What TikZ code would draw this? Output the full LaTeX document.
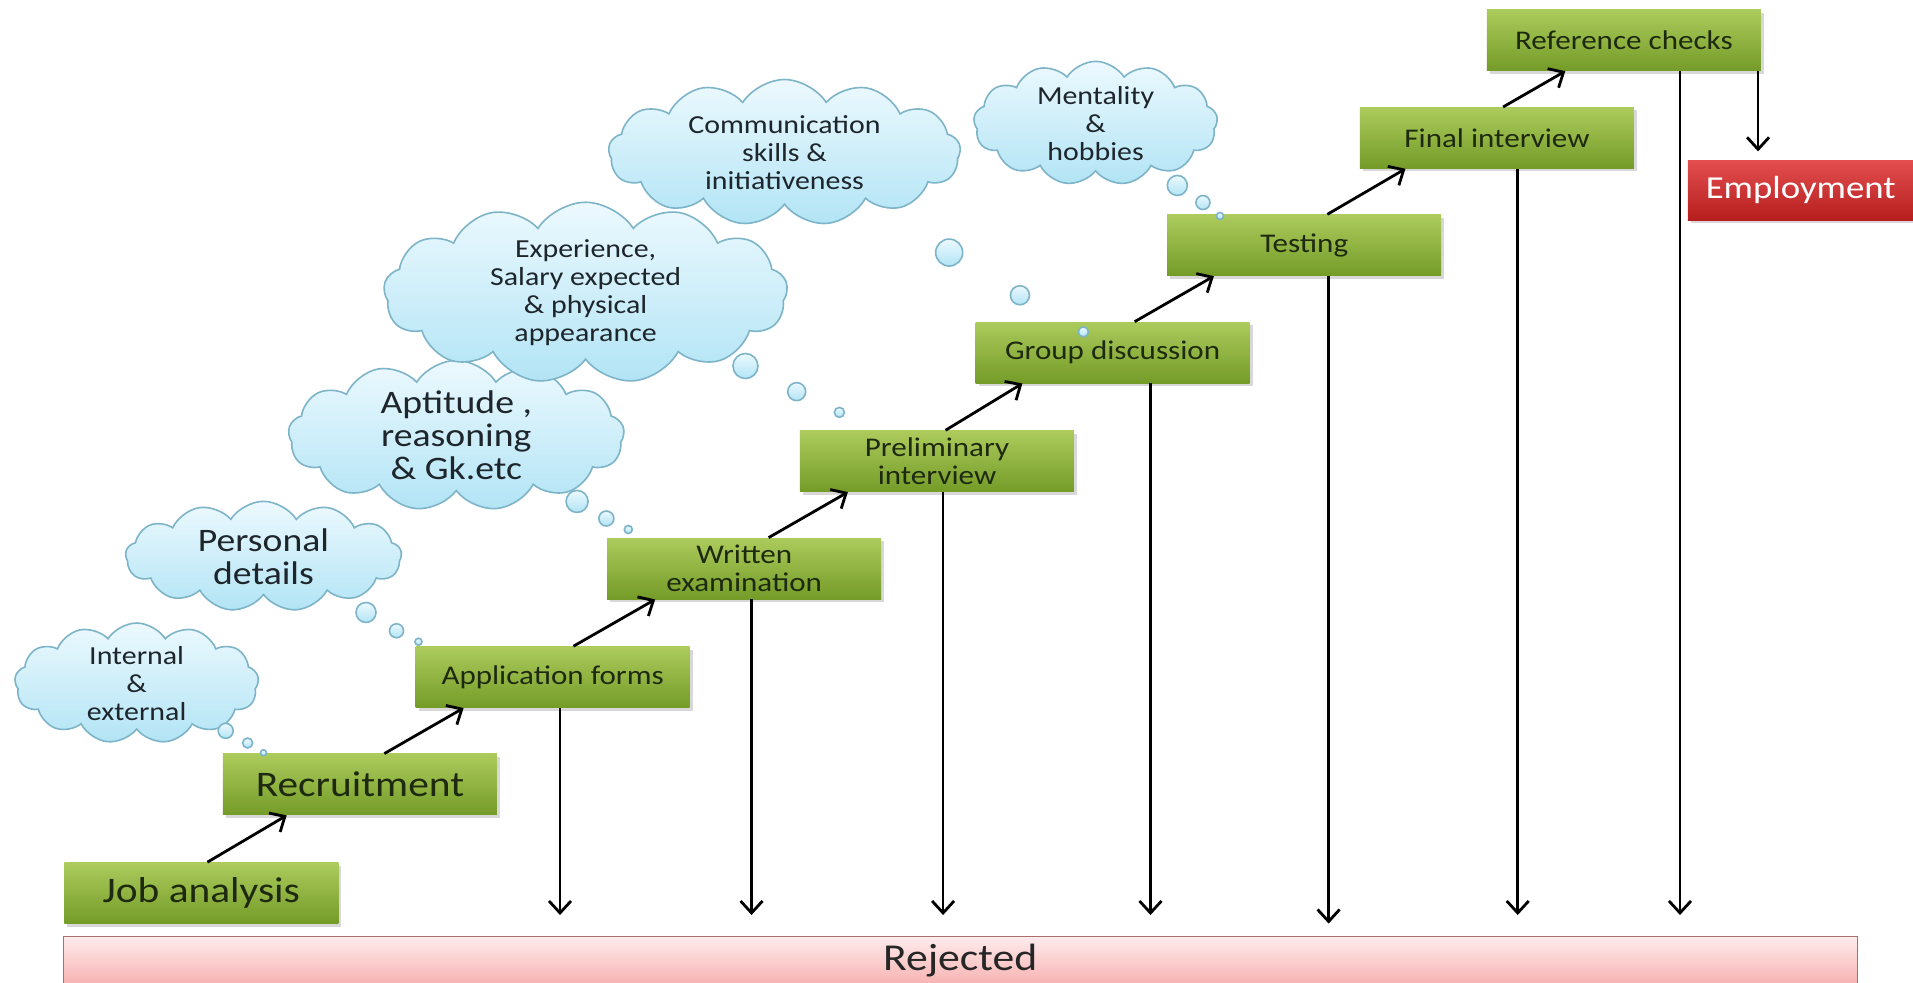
\documentclass[tikz,border=0pt]{standalone}
\usepackage{fontspec}
\setmainfont[FakeStretch=1.15]{Carlito}
\usetikzlibrary{shapes,arrows,arrows.meta,calc,positioning,shadows}

\definecolor{boxtop}{RGB}{172,203,92}
\definecolor{boxbot}{RGB}{116,155,40}
\definecolor{boxtext}{RGB}{30,42,16}
\definecolor{cloudtop}{RGB}{236,249,254}
\definecolor{cloudbot}{RGB}{178,228,245}
\definecolor{cloudline}{RGB}{125,180,200}
\definecolor{cloudtext}{RGB}{30,38,44}
\definecolor{emptop}{RGB}{228,78,78}
\definecolor{empbot}{RGB}{182,30,30}
\definecolor{rejtop}{RGB}{255,236,236}
\definecolor{rejbot}{RGB}{247,178,178}
\definecolor{rejline}{RGB}{170,110,110}

\tikzstyle{box} = [rectangle, top color=boxtop, bottom color=boxbot, text=boxtext, minimum width=137pt, minimum height=30.5pt, align=center, font=\fontsize{13.5}{14}\selectfont, drop shadow={shadow xshift=1.5pt, shadow yshift=-1.5pt, opacity=0.3}]
\tikzstyle{bigbox} = [box, font=\fontsize{18}{20}\selectfont]
\tikzstyle{thought} = [cloud, cloud puffs=13, cloud puff arc=115, cloud ignores aspect, draw=cloudline, thick, top color=cloudtop, bottom color=cloudbot, text=cloudtext, align=center, inner sep=0pt, font=\fontsize{13}{14}\selectfont]
\tikzstyle{bigthought} = [thought, font=\fontsize{16.4}{16.5}\selectfont]
\tikzstyle{bubble} = [circle, draw=cloudline, thick, top color=cloudtop, bottom color=cloudbot, inner sep=0pt]
\tikzstyle{line} = [draw, line width=1.4pt, -{Straight Barb[length=6pt,width=11pt,line width=1.4pt]}]

\begin{document}
\begin{tikzpicture}[x=0.61pt, y=-0.61pt]
	\path [use as bounding box, fill=white] (0,0) rectangle (1568,805);

	% steps
	\node [bigbox] (job) at (165,732) {Job analysis};
	\node [bigbox] (recruit) at (295,643) {Recruitment};
	\node [box] (appform) at (453,555) {Application forms};
	\node [box] (written) at (610,466) {Written\\examination};
	\node [box] (prelim) at (768,378) {Preliminary\\interview};
	\node [box] (groupdisc) at (912,289) {Group discussion};
	\node [box] (testing) at (1069,201) {Testing};
	\node [box] (finalint) at (1227,113) {Final interview};
	\node [box] (refcheck) at (1331,33) {Reference checks};
	\node [box, top color=emptop, bottom color=empbot, text=white, minimum width=113pt, minimum height=30pt, font=\fontsize{16}{18}\selectfont] (employ) at (1476,156) {Employment};
	\node [rectangle, draw=rejline, top color=rejtop, bottom color=rejbot, minimum width=897pt, minimum height=24pt, font=\fontsize{19}{20}\selectfont, text=black!85] (reject) at (787,787) {Rejected};
	\coordinate (rejend) at (0,750);

	% thoughts
	\node [thought, minimum width=122pt, minimum height=52pt] (intext) at (112,560) {Internal\\\&\\external};
	\node [bigthought, minimum width=138pt, minimum height=55pt] (personal) at (216,456) {Personal\\details};
	\node [bigthought, minimum width=168pt, minimum height=67pt] (aptitude) at (374,357) {Aptitude ,\\reasoning\\\& Gk.etc};
	\node [thought, minimum width=202pt, minimum height=66pt] (experience) at (480,240) {Experience,\\Salary expected\\\& physical\\appearance};
	\node [thought, minimum width=176pt, minimum height=73pt] (commskill) at (643,125) {Communication\\skills \&\\initiativeness};
	\node [thought, minimum width=122pt, minimum height=56pt] (mentality) at (898,101) {Mentality\\\&\\hobbies};

	\foreach \x/\y/\d [count=\i] in {185/599/7.5, 203/609/5, 216/617/3,
		300/502/10, 325/517/7, 343/526/3.5,
		473/411/11, 497/425/7.5, 515/434/4,
		611/300/12.5, 653/321/9, 688/338/5,
		778/207/13.5, 836/242/9.5, 888/272/5,
		965/152/10, 986/166/7, 1000/177/3.5}
		\node [bubble, minimum size=\d pt] (bub\i) at (\x,\y) {};

	% steps up
	\foreach \a/\b/\s/\e in {job/recruit/5/-60, recruit/appform/20/-73, appform/written/17/-73, written/prelim/20/-73, prelim/groupdisc/7/-74, groupdisc/testing/18/-74, testing/finalint/19/-75, finalint/refcheck/5/-48}
		\path [line] ($(\a.north)+(\s,0)$) -- ($(\b.south)+(\e,0)$);

	% rejections
	\foreach \n/\dx in {appform/6, written/6, prelim/5, groupdisc/31, finalint/17, refcheck/46}{
		\coordinate (out\n) at ($(\n.south)+(\dx,0)$);
		\path [line] (out\n) -- (out\n |- rejend);
	}
	\coordinate (outtesting) at ($(testing.south)+(20,0)$);
	\path [line] (outtesting) -- ($(outtesting |- rejend)+(0,7)$);

	\coordinate (outemploy) at ($(refcheck.south)+(110,0)$);
	\path [line] (outemploy) -- ($(outemploy |- employ.north)+(0,-7)$);
\end{tikzpicture}
\end{document}
